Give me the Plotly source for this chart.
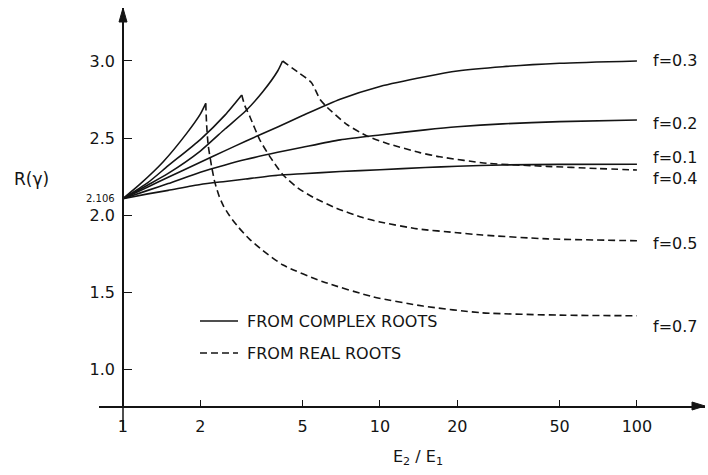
import math
import plotly.graph_objects as go

# ---------------- data ----------------
x_full = [1, 1.25, 1.5, 2, 2.5, 3, 4, 5, 7, 10, 15, 20, 30, 50, 100]
y_f01 = [2.106, 2.137, 2.16, 2.198, 2.218, 2.234, 2.258, 2.268, 2.282, 2.294, 2.308, 2.317, 2.325, 2.329, 2.330]
y_f02 = [2.106, 2.16, 2.204, 2.278, 2.325, 2.36, 2.407, 2.44, 2.488, 2.52, 2.553, 2.573, 2.592, 2.606, 2.617]
y_f03 = [2.106, 2.182, 2.245, 2.342, 2.418, 2.479, 2.572, 2.646, 2.752, 2.835, 2.898, 2.935, 2.963, 2.985, 3.0]

x_f04_c = [1, 1.25, 1.5, 2, 2.5, 3, 3.5, 4, 4.18]
y_f04_c = [2.106, 2.195, 2.27, 2.415, 2.56, 2.675, 2.80, 2.935, 3.0]
x_f04_r = [4.18, 4.8, 5.4, 5.85, 6.2, 7.4, 8.9, 10.6, 14.3, 17.1, 26, 44.5, 70, 100]
y_f04_r = [3.0, 2.927, 2.862, 2.75, 2.703, 2.59, 2.513, 2.466, 2.405, 2.378, 2.336, 2.316, 2.302, 2.292]

x_f05_c = [1, 1.25, 1.5, 2, 2.5, 2.9]
y_f05_c = [2.106, 2.21, 2.32, 2.49, 2.65, 2.779]
x_f05_r = [2.9, 2.98, 3.12, 3.41, 3.73, 4.2, 4.8, 5.5, 6.8, 8.5, 10, 14, 20, 25, 45, 100]
y_f05_r = [2.779, 2.71, 2.638, 2.487, 2.379, 2.26, 2.175, 2.115, 2.043, 1.985, 1.955, 1.91, 1.885, 1.87, 1.845, 1.833]

x_f07_c = [1, 1.165, 1.435, 1.77, 2.0, 2.10]
y_f07_c = [2.106, 2.20, 2.346, 2.53, 2.655, 2.725]
x_f07_r = [2.10, 2.117, 2.146, 2.214, 2.28, 2.37, 2.46, 2.6, 2.8, 3.1, 3.5, 4.2, 6.0, 9.4, 14.7, 25, 50, 100]
y_f07_r = [2.725, 2.584, 2.455, 2.314, 2.21, 2.12, 2.06, 1.995, 1.925, 1.845, 1.77, 1.675, 1.567, 1.469, 1.409, 1.365, 1.35, 1.346]

curve_labels = ["f=0.3", "f=0.2", "f=0.1", "f=0.4", "f=0.5", "f=0.7"]
label_y = [3.0, 2.595, 2.375, 2.238, 1.816, 1.275]

x_ticks = [1, 2, 5, 10, 20, 50, 100]
x_tick_text = ["1", "2", "5", "10", "20", "50", "100"]
y_ticks = [1.0, 1.5, 2.0, 2.5, 3.0]
y_tick_text = ["1.0", "1.5", "2.0", "2.5", "3.0"]
start_value = 2.106

# ---------------- figure ----------------
INK = "#141414"
FONT = "DejaVu Sans"
fig = go.Figure()


def add(x, y, dash):
    fig.add_trace(go.Scatter(
        x=x, y=y, mode="lines",
        line=dict(color=INK, width=1.6, dash=dash, shape="spline", smoothing=0.6),
        showlegend=False, hoverinfo="skip"))


solid = "solid"
dashed = "7px,4px"
add(x_full, y_f01, solid)
add(x_full, y_f02, solid)
add(x_full, y_f03, solid)
add(x_f04_c, y_f04_c, solid)
add(x_f04_r, y_f04_r, dashed)
add(x_f05_c, y_f05_c, solid)
add(x_f05_r, y_f05_r, dashed)
add(x_f07_c, y_f07_c, solid)
add(x_f07_r, y_f07_r, dashed)

W, H = 708, 475
ML, MR, MT, MB = 99, 3, 8, 69
PW, PH = W - ML - MR, H - MT - MB
yaxis_pos = 24 / PW


def px(xp):
    return (xp - ML) / PW


def py(yp):
    return (H - MB - yp) / PH


annotations = []
for txt, yv in zip(curve_labels, label_y):
    annotations.append(dict(x=math.log10(100), y=yv, xref="x", yref="y", text=txt,
                            showarrow=False, xanchor="left", yanchor="middle", xshift=14,
                            font=dict(family=FONT, size=16, color=INK)))
annotations += [
    dict(x=px(117), y=start_value, xref="paper", yref="y", text="2.106", showarrow=False,
         xanchor="right", yanchor="middle", font=dict(family=FONT, size=10, color=INK)),
    dict(x=px(31), y=2.234, xref="paper", yref="y", text="R(γ)", showarrow=False,
         xanchor="center", yanchor="middle", font=dict(family=FONT, size=17, color=INK)),
    dict(x=px(418), y=py(458), xref="paper", yref="paper", text="E<sub>2</sub> / E<sub>1</sub>",
         showarrow=False, xanchor="center", yanchor="middle", font=dict(family=FONT, size=16, color=INK)),
    dict(x=px(245), y=py(321), xref="paper", yref="paper", text="FROM COMPLEX ROOTS",
         showarrow=False, xanchor="left", yanchor="middle", font=dict(family=FONT, size=16, color=INK)),
    dict(x=px(245), y=py(353), xref="paper", yref="paper", text="FROM REAL ROOTS",
         showarrow=False, xanchor="left", yanchor="middle", font=dict(family=FONT, size=16, color=INK)),
]

shapes = [
    # legend keys
    dict(type="line", xref="paper", yref="paper", x0=px(200), x1=px(238), y0=py(321), y1=py(321),
         line=dict(color=INK, width=1.6)),
    dict(type="line", xref="paper", yref="paper", x0=px(200), x1=px(238), y0=py(353), y1=py(353),
         line=dict(color=INK, width=1.6, dash=dashed)),
    # y axis continues a little below the x axis
    dict(type="line", xref="paper", yref="paper", x0=yaxis_pos, x1=yaxis_pos, y0=0, y1=py(430),
         line=dict(color=INK, width=1.5)),
    # arrowheads at the ends of both axes
    dict(type="path", xref="paper", yref="paper", xsizemode="pixel", ysizemode="pixel",
         xanchor=1, yanchor=0, path="M0,0 L-13,4 L-13,-4 Z",
         fillcolor=INK, line=dict(color=INK, width=1)),
    dict(type="path", xref="paper", yref="paper", xsizemode="pixel", ysizemode="pixel",
         xanchor=yaxis_pos, yanchor=1, path="M0,0 L-4,-14 L4,-14 Z",
         fillcolor=INK, line=dict(color=INK, width=1)),
]

fig.update_layout(
    width=W, height=H,
    margin=dict(l=ML, r=MR, t=MT, b=MB),
    paper_bgcolor="white", plot_bgcolor="white",
    showlegend=False,
    xaxis=dict(type="log", range=[math.log10(0.807), math.log10(184)],
               tickvals=x_ticks, ticktext=x_tick_text,
               ticks="inside", ticklen=6, tickwidth=1.3, tickcolor=INK,
               showline=True, linecolor=INK, linewidth=1.5,
               showgrid=False, zeroline=False, ticklabelstandoff=5,
               tickfont=dict(family=FONT, size=16, color=INK)),
    yaxis=dict(range=[0.76, 3.344], anchor="free", position=yaxis_pos,
               tickvals=y_ticks, ticktext=y_tick_text,
               ticks="inside", ticklen=8, tickwidth=1.3, tickcolor=INK,
               showline=True, linecolor=INK, linewidth=1.5,
               showgrid=False, zeroline=False, ticklabelstandoff=4,
               tickfont=dict(family=FONT, size=16, color=INK)),
    annotations=annotations,
    shapes=shapes,
)

fig.write_html("out.html", config={"displayModeBar": False},
               post_script="document.body.style.margin='0';")
